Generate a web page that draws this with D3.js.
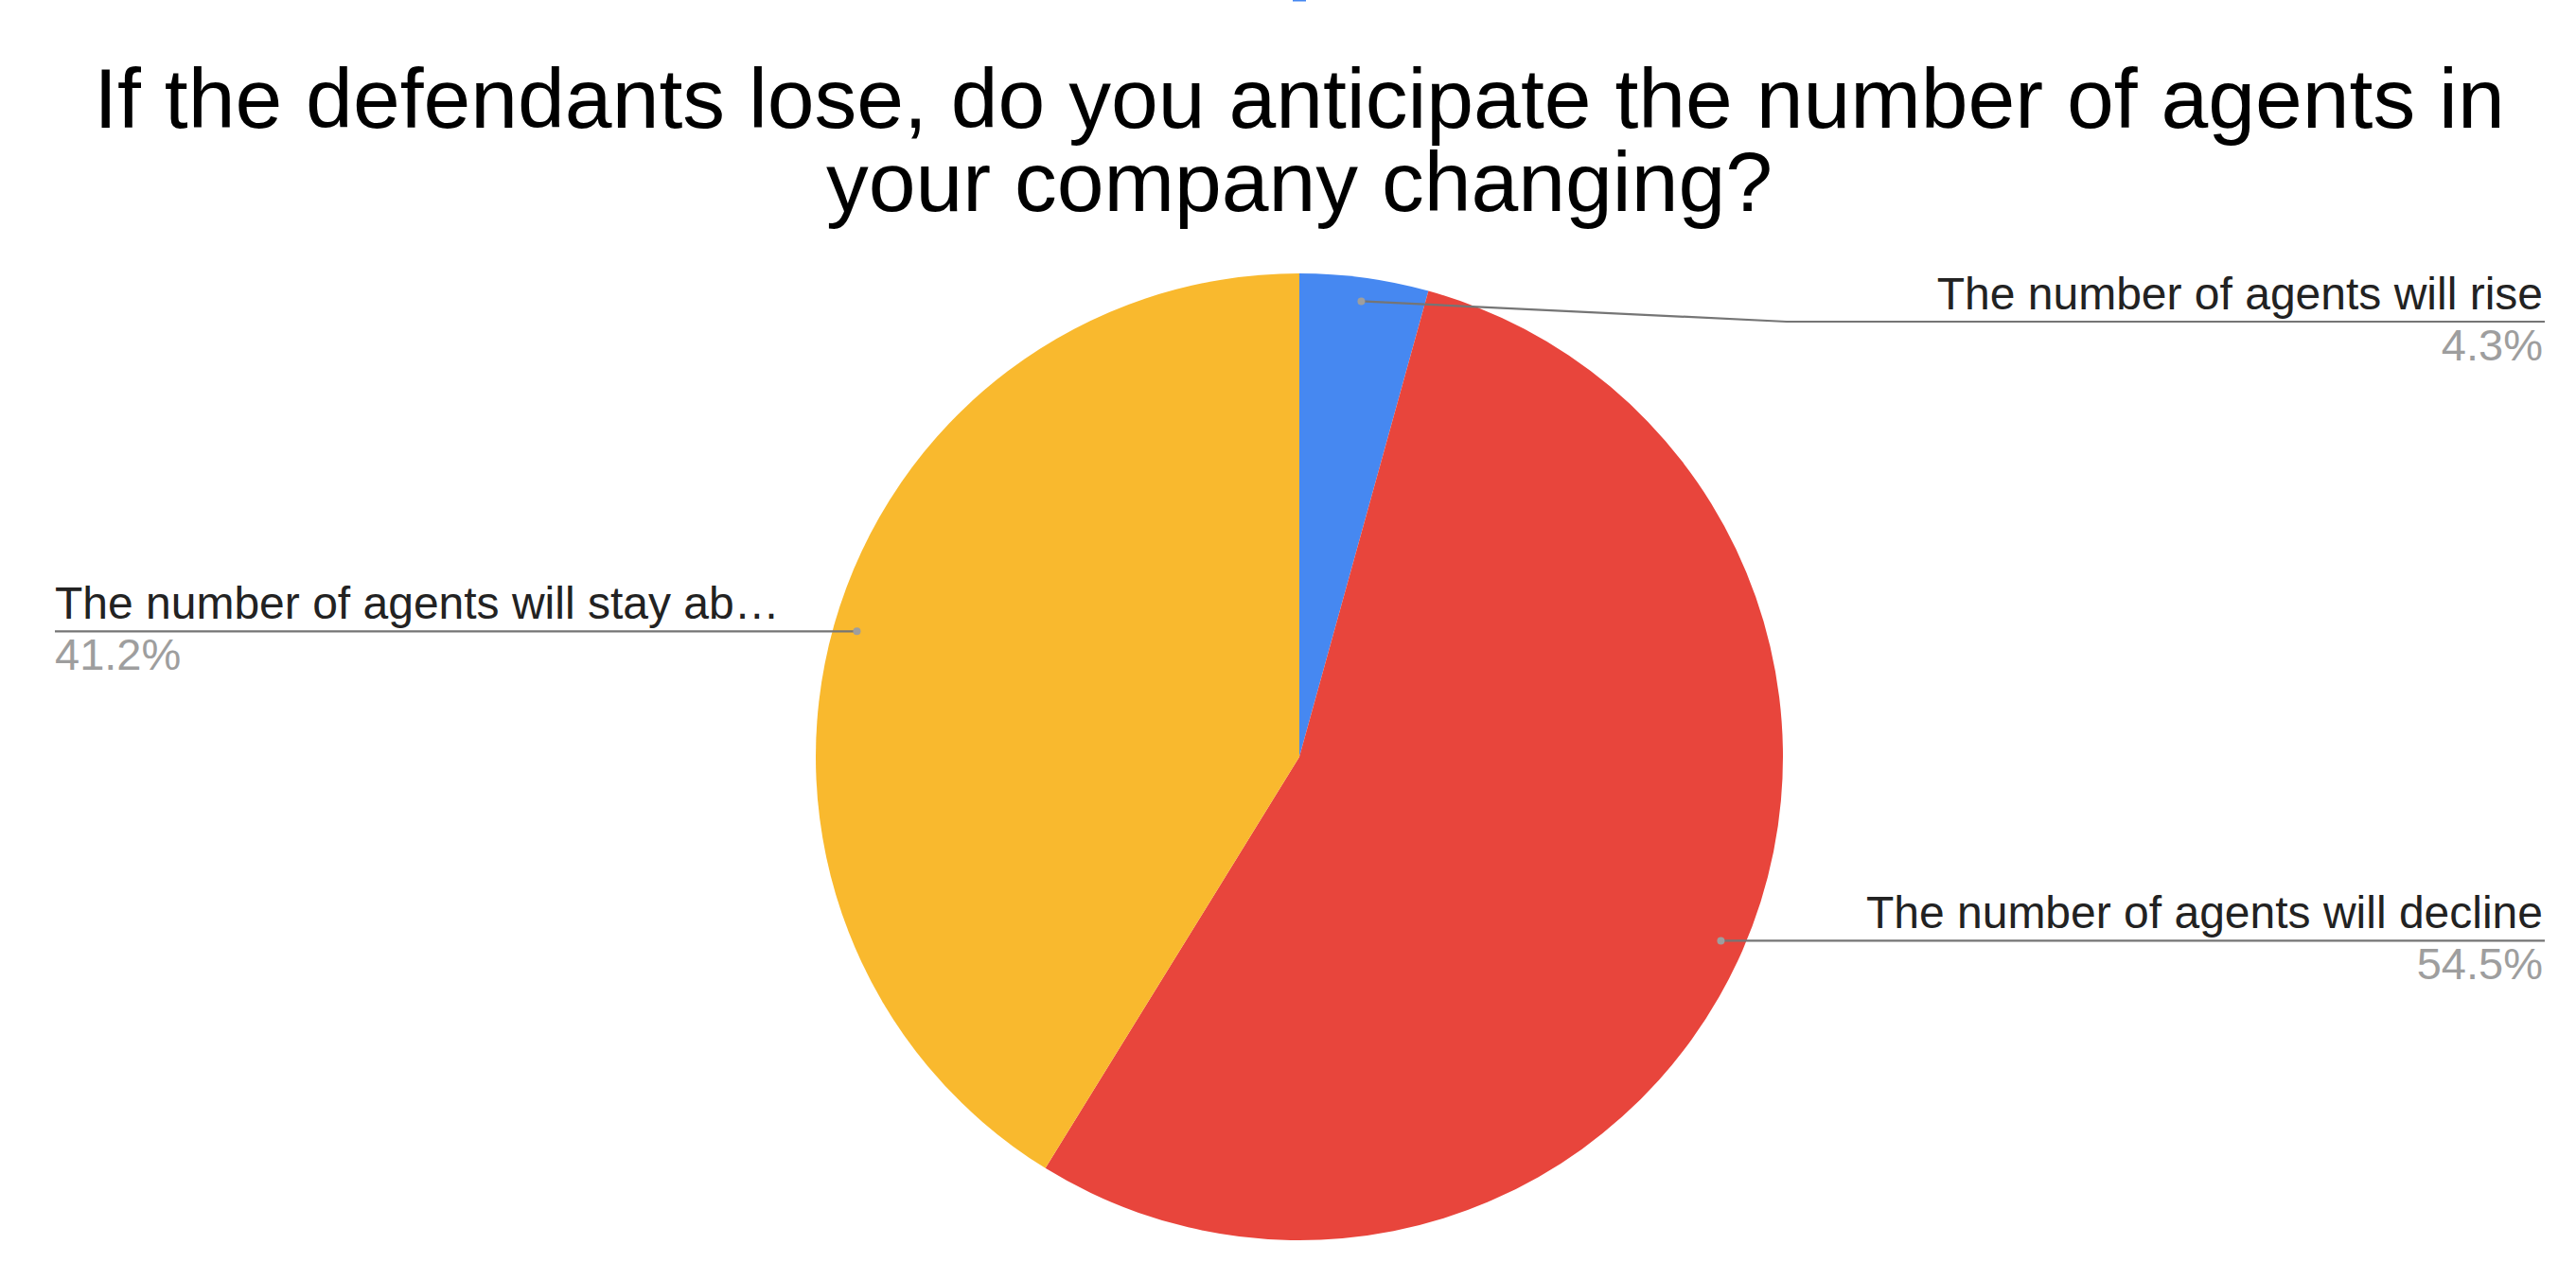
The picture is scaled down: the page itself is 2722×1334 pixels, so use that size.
<!DOCTYPE html>
<html>
<head>
<meta charset="utf-8">
<script src="https://cdn.jsdelivr.net/npm/d3@7"></script>
<style>
  html, body { margin: 0; padding: 0; background: #fff; }
  svg { display: block; }
</style>
</head>
<body>
<svg id="chart" width="2722" height="1334"></svg>
<script>
const categories = [
  "The number of agents will rise",
  "The number of agents will decline",
  "The number of agents will stay ab\u2026"
];
const values = [4.3, 54.5, 41.2];
const percentLabels = ["4.3%", "54.5%", "41.2%"];
const colors = ["#4688F1", "#E8453C", "#F9B92E"];
const titleLines = [
  "If the defendants lose, do you anticipate the number of agents in",
  "your company changing?"
];

const W = 2722, H = 1334;
const svg = d3.select("#chart");
const cx = 1373, cy = 800, R = 511;
const font = "'Liberation Sans', Arial, Helvetica, sans-serif";

// small artifact at the very top (part of the original screenshot)
svg.append("rect").attr("x", 1366).attr("y", 0).attr("width", 14).attr("height", 1.5).attr("fill", "#4688F1");

// title
const title = svg.append("text")
  .attr("text-anchor", "middle")
  .attr("font-family", font)
  .attr("font-size", 89.5)
  .attr("fill", "#000");
titleLines.forEach((t, i) => {
  title.append("tspan").attr("x", 1373).attr("y", 135 + i * 88).text(t);
});

const data = categories.map((c, i) => ({ name: c, value: values[i], pct: percentLabels[i], color: colors[i] }));

const pie = d3.pie().sort(null).value(d => d.value);
const arcs = pie(data);
const arc = d3.arc().innerRadius(0).outerRadius(R);

const g = svg.append("g").attr("transform", `translate(${cx},${cy})`);
g.selectAll("path.slice")
  .data(arcs)
  .join("path")
  .attr("class", "slice")
  .attr("d", arc)
  .attr("fill", d => d.data.color);

// labels
const dotR = 486;
const labelRightX = 2687, labelLeftX = 58;
const lineY = [340, null, null];

arcs.forEach((a, i) => {
  const mid = (a.startAngle + a.endAngle) / 2;
  const dx = cx + dotR * Math.sin(mid);
  const dy = cy - dotR * Math.cos(mid);
  const right = Math.sin(mid) > 0;
  const ly = lineY[i] != null ? lineY[i] : dy;
  const elbowX = right ? Math.max(dx, lineY[i] != null ? 1888 : dx) : dx;
  const endX = right ? labelRightX + 2 : labelLeftX;

  const pts = [[dx, dy], [elbowX, ly], [endX, ly]];
  svg.append("path")
    .attr("d", d3.line()(pts))
    .attr("fill", "none")
    .attr("stroke", "#757575")
    .attr("stroke-width", 2.2);
  svg.append("circle")
    .attr("cx", dx).attr("cy", dy).attr("r", 4)
    .attr("fill", "#9E9E9E");

  const tx = right ? labelRightX : labelLeftX;
  const anchor = right ? "end" : "start";
  svg.append("text")
    .attr("x", tx).attr("y", ly - 13)
    .attr("text-anchor", anchor)
    .attr("font-family", font)
    .attr("font-size", 48)
    .attr("fill", "#222")
    .text(a.data.name);
  svg.append("text")
    .attr("x", tx).attr("y", ly + 41)
    .attr("text-anchor", anchor)
    .attr("font-family", font)
    .attr("font-size", 47)
    .attr("fill", "#9E9E9E")
    .text(a.data.pct);
});
</script>
</body>
</html>
